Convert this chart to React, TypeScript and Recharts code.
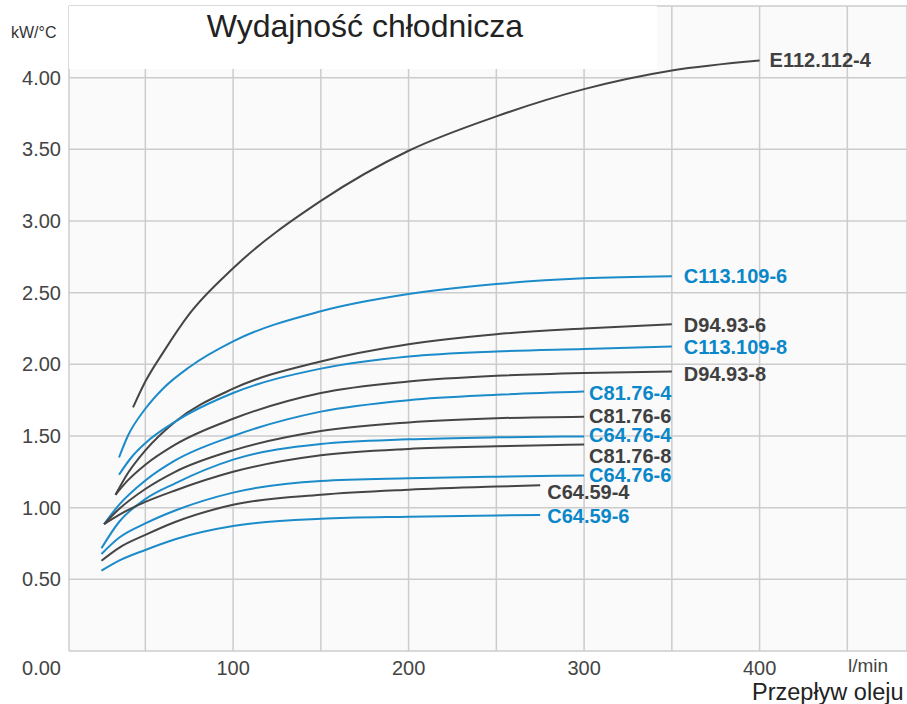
import React from 'react';
import { LineChart, Line, XAxis, YAxis, CartesianGrid, ReferenceArea } from 'recharts';

const FONT = '"Liberation Sans", Arial, Helvetica, sans-serif';
const DARK = '#454545';
const BLUE = '#1b8bca';

// przeplyw oleju [l/min] and wydajnosc [kW/°C]
const flowE112 = [43, 50, 60, 75, 100, 150, 200, 250, 300, 350, 400];
const e112_112_4 = [1.7, 1.88, 2.08, 2.35, 2.67, 3.14, 3.49, 3.73, 3.92, 4.05, 4.12];

const flowC113_6 = [35, 40, 50, 60, 75, 100, 150, 200, 250, 300, 350];
const c113_109_6 = [1.35, 1.5, 1.69, 1.83, 1.98, 2.16, 2.37, 2.49, 2.56, 2.6, 2.615];

const flowC113_8 = [35, 42, 50, 67, 100, 150, 200, 250, 300, 350];
const c113_109_8 = [1.23, 1.35, 1.45, 1.6, 1.8, 1.97, 2.055, 2.09, 2.107, 2.124];

const flowD94 = [33, 40, 50, 67, 100, 150, 200, 250, 300, 350];
const d94_93_6 = [1.09, 1.24, 1.4, 1.6, 1.83, 2.02, 2.14, 2.21, 2.25, 2.28];
const d94_93_8 = [1.09, 1.19, 1.3, 1.44, 1.62, 1.8, 1.88, 1.92, 1.94, 1.95];

const flowC81 = [26.5, 35, 50, 67, 100, 150, 200, 250, 300];
const c81_76_4 = [0.885, 1.02, 1.19, 1.33, 1.5, 1.67, 1.75, 1.787, 1.81];
const c81_76_6 = [0.885, 0.99, 1.13, 1.25, 1.4, 1.535, 1.595, 1.624, 1.635];
const c81_76_8 = [0.885, 0.95, 1.04, 1.12, 1.25, 1.365, 1.41, 1.428, 1.44];

const flowC64_76 = [25, 35, 50, 67, 100, 150, 200, 250, 300];
const c64_76_4 = [0.717, 0.9, 1.06, 1.17, 1.335, 1.445, 1.477, 1.491, 1.497];
const c64_76_6 = [0.677, 0.79, 0.89, 0.98, 1.105, 1.186, 1.205, 1.216, 1.225];

const flowC64_59 = [25, 35, 50, 67, 100, 150, 200, 250, 275];
const c64_59_4 = [0.63, 0.72, 0.81, 0.9, 1.02, 1.09, 1.125, 1.147, 1.156];
const c64_59_6 = [0.56, 0.63, 0.705, 0.78, 0.872, 0.922, 0.937, 0.946, 0.949];

const xTicks = [50, 100, 150, 200, 250, 300, 350, 400, 450];
const yTicks = [0.5, 1, 1.5, 2, 2.5, 3, 3.5, 4];

const series = [
  { name: 'E112.112-4', blue: false, flows: flowE112, values: e112_112_4 },
  { name: 'C113.109-6', blue: true, flows: flowC113_6, values: c113_109_6 },
  { name: 'D94.93-6', blue: false, flows: flowD94, values: d94_93_6 },
  { name: 'C113.109-8', blue: true, flows: flowC113_8, values: c113_109_8 },
  { name: 'D94.93-8', blue: false, flows: flowD94, values: d94_93_8 },
  { name: 'C81.76-4', blue: true, flows: flowC81, values: c81_76_4 },
  { name: 'C81.76-6', blue: false, flows: flowC81, values: c81_76_6 },
  { name: 'C64.76-4', blue: true, flows: flowC64_76, values: c64_76_4 },
  { name: 'C81.76-8', blue: false, flows: flowC81, values: c81_76_8 },
  { name: 'C64.76-6', blue: true, flows: flowC64_76, values: c64_76_6 },
  { name: 'C64.59-4', blue: false, flows: flowC64_59, values: c64_59_4 },
  { name: 'C64.59-6', blue: true, flows: flowC64_59, values: c64_59_6 },
];

// label offset from the end of each curve [dx, dy]
const labelOffset = {
  'E112.112-4': [10, 0],
  'C113.109-6': [12, 0],
  'D94.93-6': [12, 1],
  'C113.109-8': [12, 0],
  'D94.93-8': [12, 2],
  'C81.76-4': [5, 1],
  'C81.76-6': [5, -1],
  'C64.76-4': [5, -1],
  'C81.76-8': [5, 11],
  'C64.76-6': [5, 0],
  'C64.59-4': [7, 7],
  'C64.59-6': [7, 1],
};

const endLabel = (s) => (p) => {
  if (p.index !== s.flows.length - 1) return null;
  const [dx, dy] = labelOffset[s.name];
  return (
    <text
      x={p.x + dx}
      y={p.y + dy}
      dominantBaseline="central"
      fill={s.blue ? '#0a87c9' : '#404040'}
      fontSize={20}
      fontWeight="bold"
      fontFamily={FONT}
    >
      {s.name}
    </text>
  );
};

const tickStyle = { fill: '#444', fontSize: 20, fontFamily: FONT };

export default function App() {
  return (
    <div style={{ position: 'absolute', left: 0, top: 0, width: 907, height: 704, fontFamily: FONT, background: '#fff' }}>
      <LineChart width={907} height={704} margin={{ top: 6, right: 0, bottom: 0, left: 0 }}>
        <CartesianGrid fill="#fafafa" stroke="#cccccc" strokeWidth={1.5} />
        <XAxis
          type="number"
          dataKey="x"
          domain={[6.5, 484]}
          allowDataOverflow
          ticks={xTicks}
          interval={0}
          tickFormatter={(v) => (v % 100 === 0 && v <= 400 ? String(v) : '')}
          axisLine={false}
          tickLine={false}
          tickMargin={4}
          height={53}
          tick={tickStyle}
        />
        <YAxis
          type="number"
          domain={[0, 4.5]}
          allowDataOverflow
          ticks={yTicks}
          interval={0}
          tickFormatter={(v) => v.toFixed(2)}
          axisLine={false}
          tickLine={false}
          width={69}
          tick={tickStyle}
        />
        <ReferenceArea x1={6.5} x2={341.5} y1={4.06} y2={4.5} fill="#ffffff" fillOpacity={1} stroke="none" />
        {series.map((s) => (
          <Line
            key={s.name}
            data={s.flows.map((f, i) => ({ x: f, y: s.values[i] }))}
            dataKey="y"
            type="monotone"
            stroke={s.blue ? BLUE : DARK}
            strokeWidth={2}
            dot={false}
            activeDot={false}
            isAnimationActive={false}
            label={endLabel(s)}
          />
        ))}
      </LineChart>
      <svg width={907} height={704} style={{ position: 'absolute', left: 0, top: 0, pointerEvents: 'none' }}>
        <text x={365} y={37} textAnchor="middle" fontSize={32} fill="#222" fontFamily={FONT}>
          Wydajność chłodnicza
        </text>
        <text x={11} y={38} fontSize={16} fill="#333" fontFamily={FONT}>
          kW/°C
        </text>
        <text x={61} y={675} textAnchor="end" fontSize={20} fill="#444" fontFamily={FONT}>
          0.00
        </text>
        <text x={848} y={672} fontSize={19} fill="#444" fontFamily={FONT}>
          l/min
        </text>
        <text x={752} y={700} fontSize={23.5} fill="#222" fontFamily={FONT}>
          Przepływ oleju
        </text>
      </svg>
    </div>
  );
}
